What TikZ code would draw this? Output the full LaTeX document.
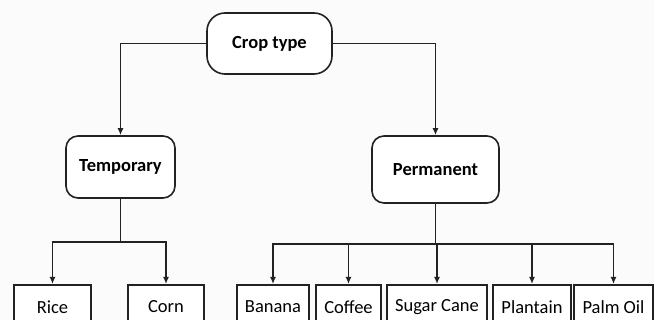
\documentclass[tikz,border=0pt]{standalone}
\usepackage{fontspec}
\setmainfont{Carlito}
\usetikzlibrary{arrows.meta,positioning,calc}
\definecolor{linegray}{HTML}{222222}
\tikzstyle{rbox} = [draw=linegray,line width=1.6pt,fill=white,font=\bfseries\fontsize{18.5}{20}\selectfont]
\tikzstyle{leaf} = [draw=linegray,line width=1.6pt,fill=white,anchor=north,minimum height=44pt,font=\fontsize{18.5}{20}\selectfont]
\tikzstyle{link} = [draw=linegray,line width=1.9pt]
\tikzset{>={Latex[length=7pt,width=6pt]}}

\begin{document}
\begin{tikzpicture}[x=1pt,y=-1pt]
    \useasboundingbox (0,0) rectangle (654,320);
    \clip (0,0) rectangle (654,320);
    \fill [white!97!gray] (0,0) rectangle (654,320);
    \node [rbox,rounded corners=18pt,minimum width=125pt,minimum height=61pt] (crop) at (269.5,43.5) {Crop type};
    \node [rbox,rounded corners=12pt,minimum width=109pt,minimum height=62pt] (temp) at (120.5,167) {Temporary};
    \node [rbox,rounded corners=12pt,minimum width=127pt,minimum height=67pt] (perm) at (435.5,169.5) {Permanent};
    \node [leaf,minimum width=77pt] (rice) at (52.5,284) {Rice};
    \node [leaf,minimum width=76pt] (corn) at (166,284) {Corn};
    \node [leaf,minimum width=72pt] (banana) at (273,284) {Banana};
    \node [leaf,minimum width=65pt] (coffee) at (348.5,284) {Coffee};
    \node [leaf,minimum width=100pt] (cane) at (437,284) {Sugar Cane};
    \node [leaf,minimum width=78pt] (plantain) at (532,284) {Plantain};
    \node [leaf,minimum width=79pt] (palm) at (613.5,284) {Palm Oil};
    \draw [link,->] (crop.west) -| (temp.north);
    \draw [link,->] (crop.east) -| (perm.north);
    \coordinate (tbar) at ($(temp.south)+(0,43)$);
    \coordinate (pbar) at ($(perm.south)+(0,40)$);
    \draw [link] (temp.south) -- (tbar);
    \draw [link] (perm.south) -- (pbar);
    \draw [link,->] (tbar) -| (rice.north);
    \draw [link,->] (tbar) -| (corn.north);
    \foreach \n in {banana,coffee,cane,plantain,palm}
      \draw [link,->] (pbar) -| (\n.north);
\end{tikzpicture}
\end{document}
